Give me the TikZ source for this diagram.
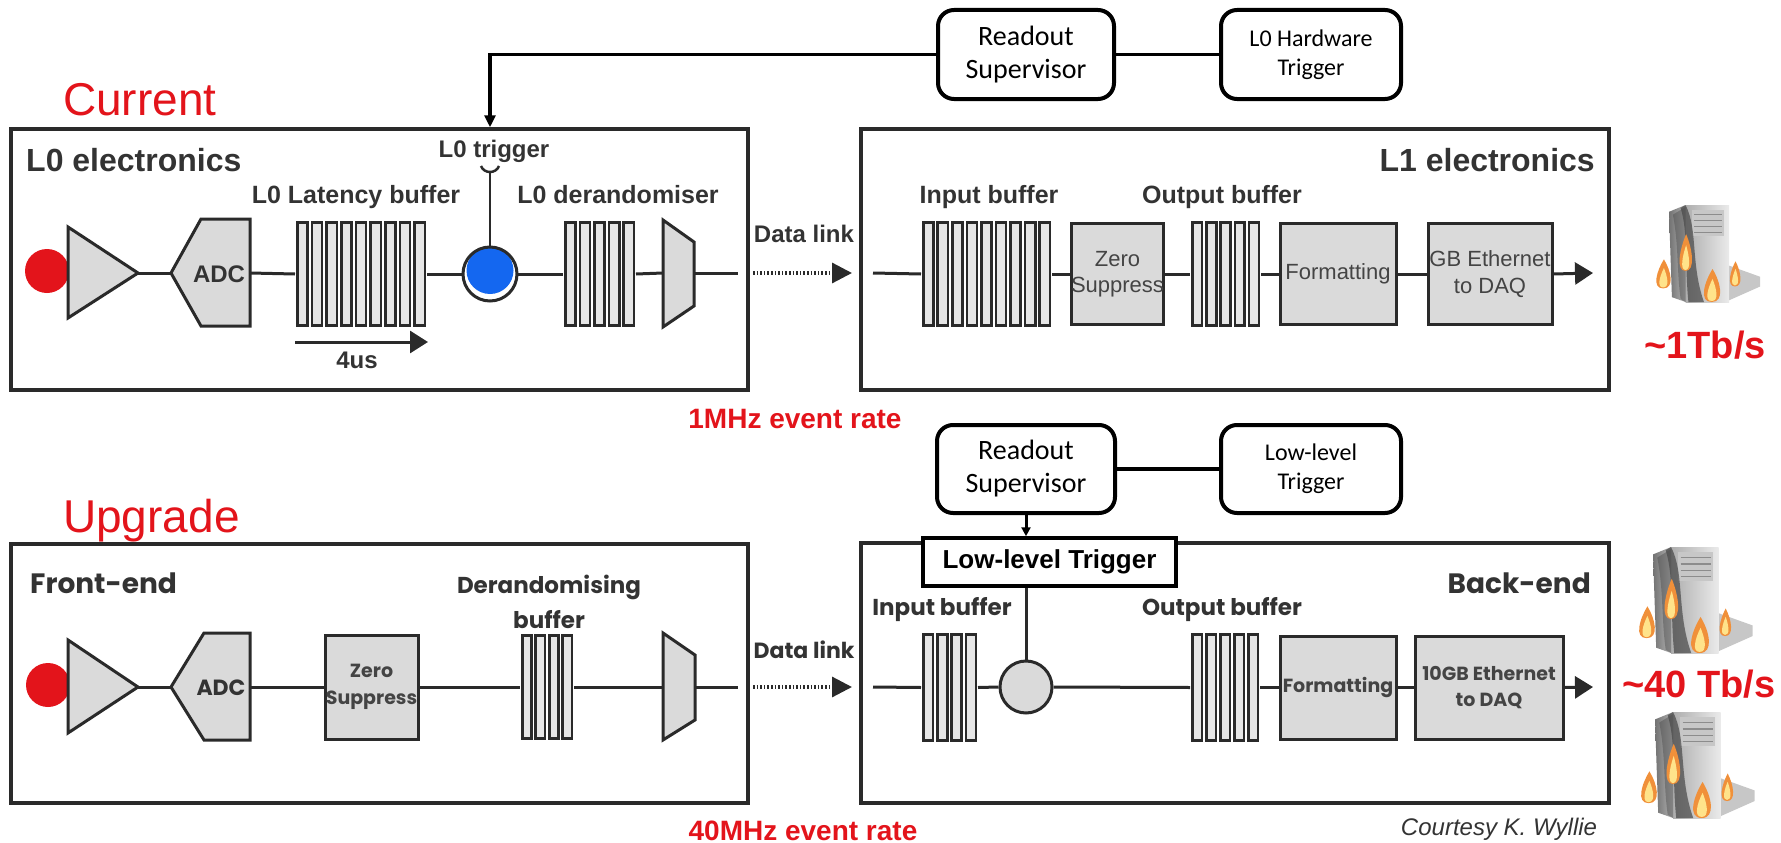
\documentclass[tikz,border=0pt]{standalone}
\usepackage{fontspec}
\setmainfont{Liberation Sans}
\newfontfamily\calib{Carlito}
\newfontfamily\gothic{Poppins}
\usetikzlibrary{arrows.meta}

\newcommand\fsz[2]{\fontsize{#1}{#2}\selectfont}

\definecolor{ink}{HTML}{2A2A2A}
\definecolor{txt}{HTML}{333333}
\definecolor{boxtxt}{HTML}{444444}
\definecolor{boxgray}{HTML}{DADADA}
\definecolor{cellgray}{HTML}{E6E6E6}
\definecolor{alert}{HTML}{E3141B}
\definecolor{trigblue}{HTML}{1467F0}
\definecolor{flameout}{HTML}{F0903A}
\definecolor{flamein}{HTML}{FFE38A}

\tikzset{
  wire/.style={draw=ink, line width=3pt},
  frame/.style={draw=ink, line width=3.5pt, inner sep=0pt},
  part/.style={draw=ink, line width=3pt, fill=boxgray},
  cell/.style={draw=ink, line width=2.6pt, fill=cellgray},
  procbox/.style={part, inner sep=0pt, align=center, text=boxtxt},
  ctrlbox/.style={draw=black, line width=4pt, rounded corners=16pt, fill=white,
                  inner sep=0pt, align=center, text=black},
  lbl/.style={text=txt, inner sep=0pt, font=\bfseries\fsz{25}{28}},
  glbl/.style={text=txt, inner sep=0pt, font=\gothic\bfseries\fsz{23}{26}},
  outarrow/.style={wire, -{Triangle[length=18pt,width=22pt]}},
  linkarrow/.style={draw=ink, line width=3.2pt, dash pattern=on 1.6pt off 2pt,
                    -{Triangle[length=20pt,width=20pt]}},
  redtitle/.style={text=alert, inner sep=0pt, anchor=base west, font=\fsz{46}{46}},
  redrate/.style={text=alert, inner sep=0pt, anchor=base, font=\bfseries\fsz{28}{28}},
  redbw/.style={text=alert, inner sep=0pt, anchor=base, font=\bfseries\fsz{38}{38}},
}

% buffer of #6 slots named #1 spanning (#2,#3)-(#4,#5)
\newcommand\bufcells[6]{%
  \node[inner sep=0pt, outer sep=0pt, minimum width={#4pt-#2pt}, minimum height={#5pt-#3pt}]
    (#1) at ({(#2+#4)/2},{(#3+#5)/2}) {};
  \pgfmathsetmacro\bufpitch{(#4-#2)/#6}%
  \foreach \k in {1,...,#6}{%
    \draw[cell] ({#2+(\k-1)*\bufpitch+2.2},{#3+1.3}) rectangle ({#2+\k*\bufpitch-2.2},{#5-1.3});
  }%
}

% flame with base at (#1,#2), width #3, height #4
\newcommand\flame[4]{%
  \fill[flameout] (#1,#2) .. controls ({#1-0.8*#3},#2) and ({#1-0.45*#3},{#2-0.6*#4}) .. ({#1+0.05*#3},{#2-#4})
     .. controls ({#1+0.55*#3},{#2-0.6*#4}) and ({#1+0.8*#3},#2) .. (#1,#2) -- cycle;
  \fill[flamein] (#1,{#2-1}) .. controls ({#1-0.45*#3},{#2-1}) and ({#1-0.25*#3},{#2-0.4*#4}) .. ({#1+0.05*#3},{#2-0.7*#4})
     .. controls ({#1+0.3*#3},{#2-0.4*#4}) and ({#1+0.45*#3},{#2-1}) .. (#1,{#2-1}) -- cycle;
}

% burning server tower, top-left corner at (#1,#2), scaled by #3
\newcommand\servericon[3]{%
  \begin{scope}[shift={(#1,#2)}, scale=#3]
    \fill[black!22] (55,60) -- (94,74) -- (94,84) -- (58,100) -- cycle;
    \shade[left color=black!55, right color=black!30] (0,7) -- (17,0) -- (17,100) -- (3,95) -- cycle;
    \shade[left color=black!32, right color=black!8] (17,0) rectangle (62,100);
    \fill[black!22] (24,5) rectangle (57,32);
    \foreach \yy in {10,16,22,28} \draw[black!45, line width=1.2pt] (26,\yy) -- (55,\yy);
    \fill[black!80, opacity=0.6] (17,0) .. controls (30,25) and (22,60) .. (36,100) -- (20,100) .. controls (16,60) and (20,30) .. (12,3) -- cycle;
    \fill[black!70, opacity=0.45] (4,10) .. controls (10,40) and (8,70) .. (12,97) -- (17,100) -- (17,2) -- cycle;
    \flame{-6}{86}{15}{30}
    \flame{17}{68}{13}{38}
    \flame{44}{100}{17}{34}
    \flame{68}{84}{11}{26}
  \end{scope}}

\begin{document}
\begin{tikzpicture}[x=1pt,y=-1pt]
\useasboundingbox (0,0) rectangle (1781,843);

% ---------------- current readout ----------------
\node[redtitle] (cur) at (63,115) {Current};
\node[frame, minimum width=737pt, minimum height=261pt] (l0box) at (379.5,259.5) {};
\node[frame, minimum width=748pt, minimum height=261pt] (l1box) at (1235,259.5) {};
\node[lbl, anchor=base west, font=\bfseries\fsz{32}{32}] (l0t) at (26,171) {L0 electronics};
\node[lbl, anchor=base east, font=\bfseries\fsz{32}{32}] (l1t) at (1595,171) {L1 electronics};

% control boxes
\node[ctrlbox, minimum width=176pt, minimum height=89pt, font=\calib\fsz{28}{33}] (rs1) at (1026,54.5) {Readout\\Supervisor};
\node[ctrlbox, minimum width=180pt, minimum height=89pt, font=\calib\fsz{24}{29}] (hw1) at (1311,54.5) {L0 Hardware\\Trigger};
\draw[black, line width=3.5pt] (rs1) -- (hw1);

% front-end chain
\node[circle, fill=alert, minimum size=44pt, inner sep=0pt] (src1) at (47,271) {};
\draw[part] (68,227) -- (138,273) -- (68,318) -- cycle;
\coordinate (amp1) at (138,273);
\draw[part] (171,273) -- (201,219) -- (250,219) -- (250,326) -- (201,326) -- cycle;
\coordinate (adc1in) at (171,273);
\coordinate (adc1out) at (250,273);
\node[text=txt, inner sep=0pt, font=\bfseries\fsz{24}{24}] (adc1) at (219,274) {ADC};
\bufcells{lbuf}{295}{221}{427}{327}{9}
\node[lbl, anchor=base] (lbuft) at (356,203) {L0 Latency buffer};
\coordinate (lat0) at (295,342);
\coordinate (lat1) at (428,342);
\draw[outarrow] (lat0) -- (lat1);
\node[lbl, anchor=base, font=\bfseries\fsz{24}{24}] (lat) at (357,368) {4us};

\node[circle, minimum size=54pt, inner sep=0pt, fill=white] (trig1) at (490,274) {};
\fill[trigblue] (490,270.5) circle (23.5pt);
\draw[ink, line width=3pt] (trig1.center) circle (27pt);
\coordinate (stem1) at (490,172);
\draw[wire, line width=2.5pt] (trig1.north) -- (stem1);
\draw[ink, line width=2.5pt] (481,166) .. controls (484,174) and (496,174) .. (499,166);
\node[lbl, anchor=base, font=\bfseries\fsz{24}{24}] (trigt) at (494,157) {L0 trigger};
\draw[black, line width=3.5pt, -{Triangle[length=12pt,width=11pt]}] (rs1.west) -| (l0box.north -| trig1);

\bufcells{dbuf}{563}{221}{636}{327}{5}
\node[lbl, anchor=base] (dbuft) at (618,203) {L0 derandomiser};
\draw[part] (663,220) -- (694,242) -- (694,306) -- (663,327) -- cycle;
\coordinate (mux1in) at (663,273);
\coordinate (mux1out) at (694,273);
\coordinate (tx1) at (738,273);
\coordinate (dl1a) at (753,273);
\coordinate (dl1b) at (852,273);
\coordinate (rx1) at (873,273);
\node[lbl, anchor=base, font=\bfseries\fsz{24}{24}] (dl1) at (804,242) {Data link};

\draw[wire] (amp1) -- (adc1in);
\draw[wire] (adc1out) -- (lbuf.west);
\draw[wire] (lbuf.east) -- (trig1.west);
\draw[wire] (trig1.east) -- (dbuf.west);
\draw[wire] (dbuf.east) -- (mux1in);
\draw[wire] (mux1out) -- (tx1);
\draw[linkarrow] (dl1a) -- (dl1b);

% L1 chain
\bufcells{ibuf1}{921}{221}{1052}{327}{9}
\node[lbl, anchor=base] (ibuf1t) at (989,203) {Input buffer};
\node[procbox, minimum width=92pt, minimum height=101pt, font=\fsz{22}{26}] (zs1) at (1117.5,274) {Zero\\Suppress};
\bufcells{obuf1}{1190}{221}{1261}{327}{5}
\node[lbl, anchor=base] (obuf1t) at (1222,203) {Output buffer};
\node[procbox, minimum width=116pt, minimum height=101pt, font=\fsz{22}{26}] (fmt1) at (1338,274) {Formatting};
\node[procbox, minimum width=124pt, minimum height=101pt, font=\fsz{22}{27}] (eth1) at (1490,274) {GB Ethernet\\to DAQ};
\coordinate (out1) at (1593,273);

\draw[wire] (rx1) -- (ibuf1.west);
\draw[wire] (ibuf1.east) -- (zs1.west);
\draw[wire] (zs1.east) -- (obuf1.west);
\draw[wire] (obuf1.east) -- (fmt1.west);
\draw[wire] (fmt1.east) -- (eth1.west);
\draw[outarrow] (eth1.east) -- (out1);

\node[redrate] (rate1) at (795,428) {1MHz event rate};
\servericon{1669}{205}{0.97}
\node[redbw] (bw1) at (1705,358) {\textasciitilde1Tb/s};

% ---------------- upgraded readout ----------------
\node[redtitle] (upg) at (63,532) {Upgrade};
\node[frame, minimum width=737pt, minimum height=259pt] (febox) at (379.5,673.5) {};
\node[frame, minimum width=748pt, minimum height=260pt] (bebox) at (1235,673) {};
\node[glbl, anchor=base west, font=\gothic\bfseries\fsz{28}{28}] (fet) at (30,593) {Front-end};
\node[glbl, anchor=base east, font=\gothic\bfseries\fsz{28}{28}] (bet) at (1591,593) {Back-end};

\node[ctrlbox, minimum width=178pt, minimum height=88pt, font=\calib\fsz{28}{33}] (rs2) at (1026,469) {Readout\\Supervisor};
\node[ctrlbox, minimum width=180pt, minimum height=88pt, font=\calib\fsz{24}{29}] (ll2) at (1311,469) {Low-level\\Trigger};
\draw[black, line width=3.5pt] (rs2) -- (ll2);
\node[draw=black, line width=3.5pt, fill=white, inner sep=0pt, minimum width=253pt, minimum height=48pt,
      font=\bfseries\fsz{26}{26}] (llt) at (1049.5,562) {Low-level Trigger};
\draw[black, line width=3pt, -{Triangle[length=9pt,width=9pt]}] (rs2.south) -- (rs2.south |- llt.north);

\node[circle, fill=alert, minimum size=44pt, inner sep=0pt] (src2) at (48,685) {};
\draw[part] (68,640) -- (138,687) -- (68,733) -- cycle;
\coordinate (amp2) at (138,687);
\draw[part] (171,687) -- (204,633) -- (250,633) -- (250,740) -- (204,740) -- cycle;
\coordinate (adc2in) at (171,687);
\coordinate (adc2out) at (250,687);
\node[glbl, font=\gothic\bfseries\fsz{22}{22}] (adc2) at (221,688) {ADC};
\node[procbox, minimum width=93pt, minimum height=104pt, font=\gothic\bfseries\fsz{19}{27}] (zs2) at (371.5,687) {Zero\\Suppress};
\bufcells{drbuf2}{520}{634}{574}{740}{4}
\node[glbl, anchor=base] (drt1) at (549,593) {Derandomising};
\node[glbl, anchor=base] (drt2) at (549,628) {buffer};
\draw[part] (663,633) -- (695,655) -- (695,720) -- (663,740) -- cycle;
\coordinate (mux2in) at (663,687);
\coordinate (mux2out) at (695,687);
\coordinate (tx2) at (738,687);
\coordinate (dl2a) at (753,687);
\coordinate (dl2b) at (852,687);
\coordinate (rx2) at (873,687);
\node[glbl, anchor=base, font=\gothic\bfseries\fsz{22}{22}] (dl2) at (804,658) {Data link};

\draw[wire] (amp2) -- (adc2in);
\draw[wire] (adc2out) -- (zs2.west);
\draw[wire] (zs2.east) -- (drbuf2.west);
\draw[wire] (drbuf2.east) -- (mux2in);
\draw[wire] (mux2out) -- (tx2);
\draw[linkarrow] (dl2a) -- (dl2b);

\bufcells{ibuf2}{921}{633}{978}{742}{4}
\node[glbl, anchor=base] (ibuf2t) at (942,615) {Input buffer};
\node[circle, draw=ink, line width=3pt, fill=boxgray, minimum size=52pt, inner sep=0pt] (circ2) at (1026,687) {};
\draw[wire] (llt.south -| circ2) -- (circ2.north);
\bufcells{obuf2}{1190}{633}{1260}{742}{5}
\node[glbl, anchor=base] (obuf2t) at (1222,615) {Output buffer};
\node[procbox, minimum width=116pt, minimum height=103pt, font=\gothic\bfseries\fsz{19}{26}] (fmt2) at (1338,687.5) {Formatting};
\node[procbox, minimum width=148pt, minimum height=103pt, font=\gothic\bfseries\fsz{19}{26}] (eth2) at (1489,687.5) {10GB Ethernet\\to DAQ};
\coordinate (out2) at (1593,687);

\draw[wire] (rx2) -- (ibuf2.west);
\draw[wire] (ibuf2.east) -- (circ2.west);
\draw[wire] (circ2.east) -- (obuf2.west);
\draw[wire] (obuf2.east) -- (fmt2.west);
\draw[wire] (fmt2.east) -- (eth2.west);
\draw[outarrow] (eth2.east) -- (out2);

\node[redrate] (rate2) at (803,840) {40MHz event rate};
\servericon{1653}{547}{1.06}
\node[redbw] (bw2) at (1699,697) {\textasciitilde40 Tb/s};
\servericon{1655}{712}{1.06}
\node[anchor=base, inner sep=0pt, text=txt, font=\itshape\fsz{24}{24}] (credit) at (1499,835) {Courtesy K. Wyllie};

\end{tikzpicture}
\end{document}
